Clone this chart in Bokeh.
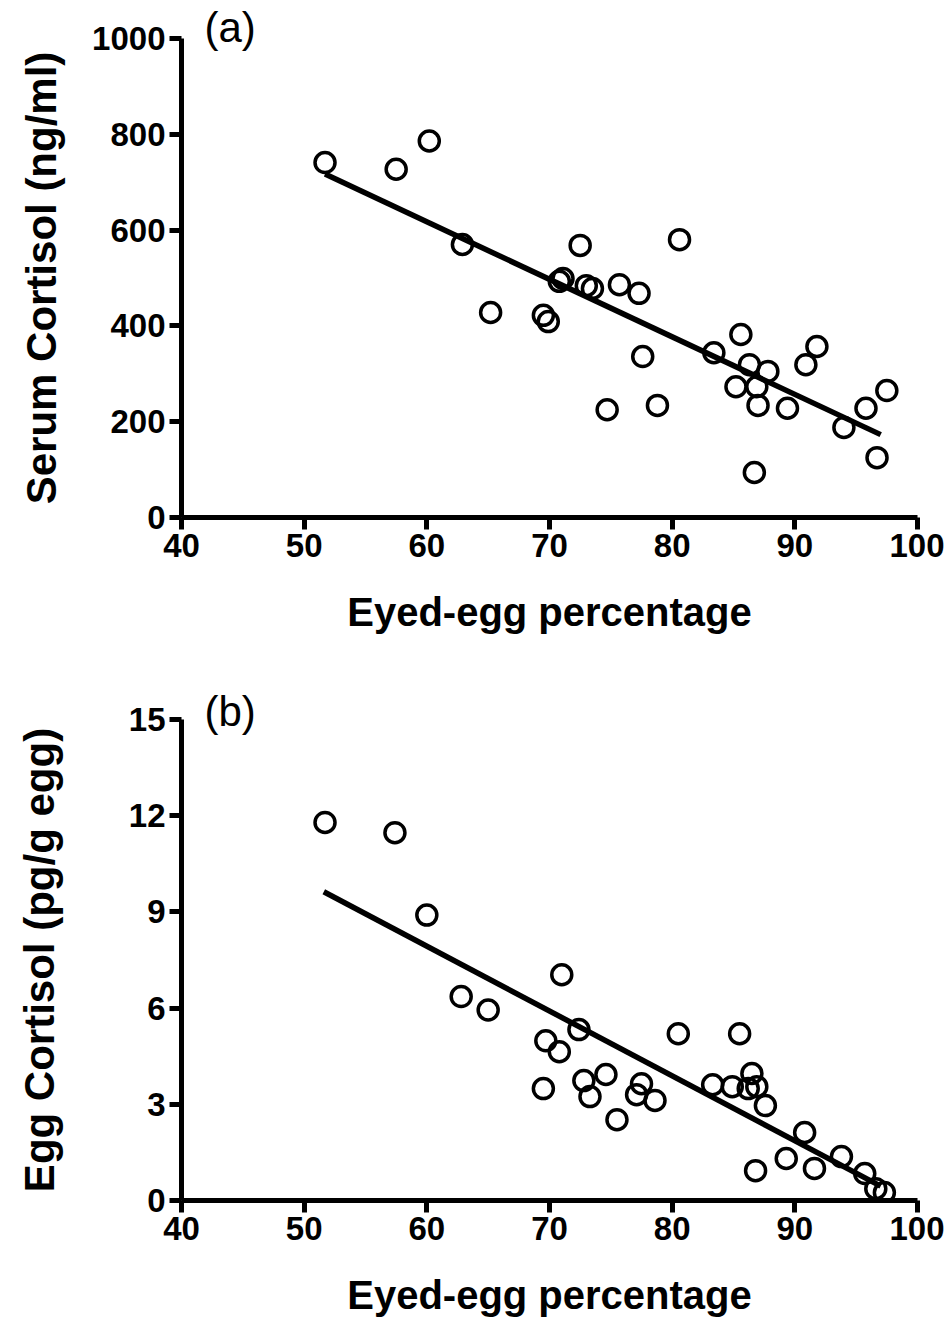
from bokeh.plotting import figure
from bokeh.layouts import column
from bokeh.models import Range1d, FixedTicker, Title
from bokeh.embed import file_html
from bokeh.resources import INLINE

# ---- data ----
x_ticks = [40, 50, 60, 70, 80, 90, 100]
serum_ticks = [0, 200, 400, 600, 800, 1000]
egg_ticks = [0, 3, 6, 9, 12, 15]

serum_x = [51.7, 57.5, 60.2, 62.9, 65.2, 69.5, 69.9, 70.8, 71.1, 72.5, 73.0,
           73.5, 75.7, 77.3, 77.6, 74.7, 78.8, 80.6, 83.4, 85.6, 85.2, 86.3,
           86.9, 87.8, 87.0, 86.7, 89.4, 90.9, 91.8, 94.0, 95.8, 97.5, 96.7]
serum_y = [741, 727, 786, 570, 428, 422, 409, 493, 499, 568, 484,
           478, 486, 468, 336, 225, 234, 580, 344, 382, 273, 319,
           273, 305, 234, 94, 228, 319, 357, 188, 228, 265, 125]
serum_fit_x = [51.7, 97.0]
serum_fit_y = [717, 173]

egg_x = [51.7, 57.4, 60.0, 62.8, 65.0, 71.0, 72.4, 69.7, 70.8, 69.5, 72.8,
         73.3, 74.6, 77.5, 77.1, 78.6, 75.5, 80.5, 85.5, 83.3, 84.9, 86.5,
         86.2, 86.9, 87.6, 90.8, 89.3, 86.8, 91.6, 93.8, 95.7, 96.6, 97.3]
egg_y = [11.79, 11.47, 8.90, 6.36, 5.94, 7.04, 5.33, 4.98, 4.64, 3.49, 3.74,
         3.24, 3.93, 3.64, 3.30, 3.12, 2.52, 5.20, 5.20, 3.61, 3.55, 3.96,
         3.49, 3.55, 2.96, 2.12, 1.31, 0.93, 1.00, 1.37, 0.84, 0.37, 0.25]
egg_fit_x = [51.6, 97.0]
egg_fit_y = [9.63, 0.45]

FONT = "Liberation Sans"


def make_panel(xs, ys, fx, fy, yticks, ymax, ylabel, tag, tag_standoff,
               border_top, border_bottom, height, label_standoff):
    p = figure(width=944, height=height, output_backend="svg", toolbar_location=None,
               x_range=Range1d(40, 100), y_range=Range1d(0, ymax),
               min_border_left=181, min_border_right=27,
               min_border_top=border_top, min_border_bottom=border_bottom)
    p.outline_line_color = None
    p.xgrid.grid_line_color = None
    p.ygrid.grid_line_color = None
    p.background_fill_color = "white"

    p.line(fx, fy, line_color="black", line_width=5.5)
    p.scatter(xs, ys, marker="circle", size=20, fill_color=None,
              line_color="black", line_width=3.5)

    for ax in (p.xaxis[0], p.yaxis[0]):
        ax.axis_line_width = 5
        ax.axis_line_color = "black"
        ax.major_tick_line_width = 5
        ax.major_tick_line_color = "black"
        ax.major_tick_in = 0
        ax.major_tick_out = 12
        ax.minor_tick_line_color = None
        ax.major_label_text_font = FONT
        ax.major_label_text_font_style = "bold"
        ax.major_label_text_font_size = "33px"
        ax.major_label_text_color = "black"
        ax.axis_label_text_font = FONT
        ax.axis_label_text_font_style = "bold"
        ax.axis_label_text_color = "black"

    p.xaxis[0].axis_label_text_font_size = "40px"
    p.yaxis[0].axis_label_text_font_size = "42px"
    p.xaxis[0].ticker = FixedTicker(ticks=x_ticks)
    p.yaxis[0].ticker = FixedTicker(ticks=yticks)
    p.xaxis[0].axis_label = "Eyed-egg percentage"
    p.yaxis[0].axis_label = ylabel
    p.xaxis[0].major_label_standoff = 4
    p.yaxis[0].major_label_standoff = 4
    p.xaxis[0].axis_label_standoff = 30
    p.yaxis[0].axis_label_standoff = label_standoff

    p.title = Title(text=tag, align="left", offset=23, standoff=tag_standoff,
                    text_font=FONT, text_font_size="42px",
                    text_font_style="normal", text_color="black")
    return p


p1 = make_panel(serum_x, serum_y, serum_fit_x, serum_fit_y, serum_ticks, 1000,
                "Serum Cortisol (ng/ml)", "(a)", -24, 38, 143, 660, 24)
p2 = make_panel(egg_x, egg_y, egg_fit_x, egg_fit_y, egg_ticks, 15,
                "Egg Cortisol (pg/g egg)", "(b)", -30, 59, 120, 660, 63)

layout = column(p1, p2, spacing=0)
open("out.html", "w").write(file_html(layout, INLINE))
